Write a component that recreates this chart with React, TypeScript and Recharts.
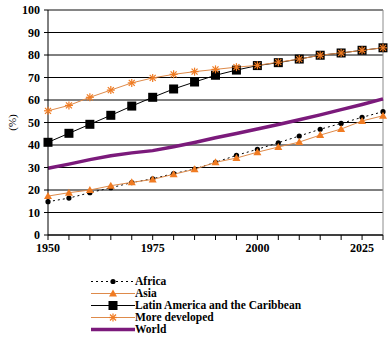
import React from 'react';
import {
  LineChart,
  Line,
  XAxis,
  YAxis,
  CartesianGrid,
  ReferenceLine
} from 'recharts';

const years = [1950, 1955, 1960, 1965, 1970, 1975, 1980, 1985, 1990, 1995, 2000, 2005, 2010, 2015, 2020, 2025, 2030];
const africa = [14.8, 16.4, 18.8, 21.0, 23.3, 25.0, 27.3, 29.3, 32.3, 35.4, 38.1, 41.0, 44.0, 47.0, 49.6, 52.3, 54.8];
const asia = [17.3, 18.8, 20.0, 21.9, 23.4, 24.7, 27.0, 29.2, 32.3, 34.2, 36.8, 39.1, 41.3, 44.4, 47.1, 50.7, 53.0];
const latinAmerica = [41.2, 45.2, 49.2, 53.2, 57.3, 61.2, 64.9, 68.0, 71.0, 73.3, 75.3, 76.6, 78.2, 79.9, 80.9, 82.1, 83.2];
const moreDeveloped = [55.2, 57.6, 61.2, 64.4, 67.6, 69.8, 71.4, 72.6, 73.6, 74.6, 75.4, 76.8, 78.2, 79.9, 80.9, 82.1, 83.2];
const world = [29.7, 31.5, 33.5, 35.2, 36.5, 37.5, 39.2, 41.1, 43.2, 45.1, 47.1, 49.1, 51.2, 53.4, 55.7, 58.0, 60.5];

const xTicks = [1950, 1955, 1960, 1965, 1970, 1975, 1980, 1985, 1990, 1995, 2000, 2005, 2010, 2015, 2020, 2025, 2030];
const xLabels = [1950, 1975, 2000, 2025];
const yTicks = [0, 10, 20, 30, 40, 50, 60, 70, 80, 90, 100];

const data = years.map((year, i) => ({
  year,
  africa: africa[i],
  asia: asia[i],
  latinAmerica: latinAmerica[i],
  moreDeveloped: moreDeveloped[i],
  world: world[i]
}));

const FONT = '"Liberation Serif", "Times New Roman", serif';
const ORANGE = '#f07b22';
const ORANGE_LINE = '#de8a4a';
const PURPLE = '#7b1a7b';

// marker shapes
const circle = (cx: number, cy: number) => <circle cx={cx} cy={cy} r={2.6} fill="#000" />;
const triangle = (cx: number, cy: number) => (
  <polygon points={`${cx},${cy - 4} ${cx + 4},${cy + 3} ${cx - 4},${cy + 3}`} fill={ORANGE} />
);
const square = (cx: number, cy: number) => <rect x={cx - 4.5} y={cy - 4.5} width={9} height={9} fill="#000" />;
const asterisk = (cx: number, cy: number) => (
  <g stroke={ORANGE} strokeWidth={1.2}>
    <line x1={cx - 4} y1={cy} x2={cx + 4} y2={cy} />
    <line x1={cx} y1={cy - 4} x2={cx} y2={cy + 4} />
    <line x1={cx - 3} y1={cy - 3} x2={cx + 3} y2={cy + 3} />
    <line x1={cx - 3} y1={cy + 3} x2={cx + 3} y2={cy - 3} />
  </g>
);

const dotOf = (shape: (cx: number, cy: number) => React.ReactElement) => (props: any) => {
  const { cx, cy, index } = props;
  if (cx == null || cy == null) return <g key={index} />;
  return <g key={index}>{shape(cx, cy)}</g>;
};

const legendItems = [
  { name: 'Africa', color: '#000', width: 1, dash: '2 3', marker: circle },
  { name: 'Asia', color: ORANGE_LINE, width: 1, dash: undefined, marker: triangle },
  { name: 'Latin America and the Caribbean', color: '#000', width: 1.2, dash: undefined, marker: square },
  { name: 'More developed', color: ORANGE_LINE, width: 1, dash: undefined, marker: asterisk },
  { name: 'World', color: PURPLE, width: 3.5, dash: undefined, marker: null }
];

function ChartLegend() {
  return (
    <div style={{ position: 'absolute', left: 91, top: 275, fontFamily: FONT, fontWeight: 'bold', fontSize: 11.5 }}>
      {legendItems.map(item => (
        <div key={item.name} style={{ display: 'flex', alignItems: 'center', height: 12 }}>
          <svg width={44} height={11} style={{ display: 'block' }}>
            <line x1={0} y1={5.5} x2={44} y2={5.5} stroke={item.color} strokeWidth={item.width} strokeDasharray={item.dash} />
            {item.marker && item.marker(22, 5.5)}
          </svg>
          <span style={{ lineHeight: '12px', color: '#000', whiteSpace: 'nowrap' }}>{item.name}</span>
        </div>
      ))}
    </div>
  );
}

export default function App() {
  return (
    <div style={{ position: 'absolute', left: 0, top: 0, width: 388, height: 342, background: '#fff', overflow: 'hidden' }}>
      <LineChart
        width={388}
        height={342}
        data={data}
        margin={{ top: 10, right: 5, left: 8, bottom: 82 }}
      >
        <CartesianGrid horizontal vertical={false} stroke="#000" strokeWidth={1} />
        <ReferenceLine y={100} stroke="#8c8c8c" strokeWidth={1} />
        <ReferenceLine x={2030} stroke="#8c8c8c" strokeWidth={1} />
        <XAxis
          dataKey="year"
          type="number"
          domain={[1950, 2030]}
          ticks={xTicks}
          tickFormatter={(v: number) => (xLabels.includes(v) ? String(v) : '')}
          interval={0}
          height={25}
          tickSize={5}
          tickMargin={3}
          stroke="#000"
          tick={{ fill: '#000', fontFamily: FONT, fontWeight: 'bold', fontSize: 12 }}
        />
        <YAxis
          type="number"
          domain={[0, 100]}
          ticks={yTicks}
          interval={0}
          width={40}
          tickSize={4}
          tickMargin={4}
          stroke="#000"
          tick={{ fill: '#000', fontFamily: FONT, fontWeight: 'bold', fontSize: 12 }}
          label={{
            content: (props: any) => {
              const vb = props.viewBox || { x: 8, y: 10, width: 40, height: 225 };
              const x = vb.x + 4;
              const y = vb.y + vb.height / 2;
              return (
                <text x={x} y={y} transform={`rotate(-90, ${x}, ${y})`} textAnchor="middle" dominantBaseline="central"
                  fontFamily={FONT} fontSize={11} fill="#000">(%)</text>
              );
            }
          }}
        />
        <Line dataKey="africa" name="Africa" stroke="#000" strokeWidth={1} strokeDasharray="2 3"
          dot={dotOf(circle)} activeDot={false} isAnimationActive={false} />
        <Line dataKey="asia" name="Asia" stroke={ORANGE_LINE} strokeWidth={1}
          dot={dotOf(triangle)} activeDot={false} isAnimationActive={false} />
        <Line dataKey="latinAmerica" name="Latin America and the Caribbean" stroke="#000" strokeWidth={1}
          dot={dotOf(square)} activeDot={false} isAnimationActive={false} />
        <Line dataKey="moreDeveloped" name="More developed" stroke={ORANGE_LINE} strokeWidth={1}
          dot={dotOf(asterisk)} activeDot={false} isAnimationActive={false} />
        <Line dataKey="world" name="World" stroke={PURPLE} strokeWidth={3.5}
          dot={false} activeDot={false} isAnimationActive={false} />
      </LineChart>
      <ChartLegend />
    </div>
  );
}
